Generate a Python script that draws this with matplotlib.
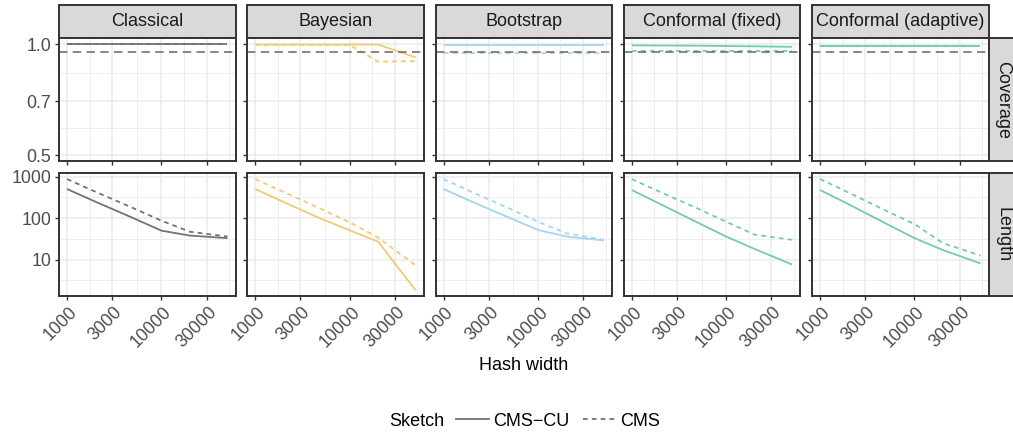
import numpy as np
import matplotlib.pyplot as plt
from matplotlib.lines import Line2D
from matplotlib.ticker import FixedLocator, NullFormatter
from matplotlib.transforms import ScaledTranslation

plt.rcParams['font.family'] = ['Liberation Sans', 'DejaVu Sans']

# data
widths = [1000, 2000, 5000, 10000, 20000, 50000]
methods = ['Classical', 'Bayesian', 'Bootstrap', 'Conformal (fixed)', 'Conformal (adaptive)']
colors = ['#737373', '#F1CA73', '#A2D6F3', '#73CAB2', '#73CAB2']
target = 0.95

cov_cu = [
    [0.998, 0.998, 0.998, 0.998, 0.998, 0.998],
    [0.997, 0.997, 0.997, 0.997, 0.997, 0.92],
    [0.997, 0.997, 0.997, 0.997, 0.997, 0.997],
    [0.992, 0.991, 0.990, 0.988, 0.986, 0.983],
    [0.989, 0.989, 0.989, 0.989, 0.989, 0.989],
]
cov_cms = [
    [0.998, 0.998, 0.998, 0.998, 0.998, 0.998],
    [0.995, 0.995, 0.995, 0.995, 0.896, 0.90],
    [0.948, 0.948, 0.948, 0.948, 0.948, 0.948],
    [0.957, 0.957, 0.957, 0.957, 0.957, 0.957],
    [0.989, 0.989, 0.989, 0.989, 0.989, 0.989],
]
len_cu = [
    [506, 250, 101, 50, 38, 33],
    [506, 245, 96, 51, 27, 1.8],
    [506, 250, 102, 52, 36, 29],
    [479, 220, 78, 36, 18, 7.6],
    [479, 218, 74, 33, 17, 8.1],
]
len_cms = [
    [880, 435, 176, 87, 47, 36],
    [880, 428, 166, 79, 34, 7.2],
    [880, 428, 171, 82, 43, 30],
    [880, 428, 171, 82, 40, 30],
    [880, 418, 151, 72, 25, 12.5],
]

x_breaks = [1000, 3000, 10000, 30000]
cov_breaks = [0.5, 0.7, 1.0]
len_breaks = [10, 100, 1000]

W, H = 1013, 436
fig = plt.figure(figsize=(W / 100, H / 100), dpi=100)


def box(x, y, w, h):
    return [x / W, 1 - (y + h) / H, w / W, h / H]


def expand(lo, hi):
    a, b = np.log10(lo), np.log10(hi)
    r = b - a
    return 10 ** (a - 0.05 * r), 10 ** (b + 0.05 * r)


def minor_of(breaks):
    lb = np.log10(breaks)
    mids = (lb[:-1] + lb[1:]) / 2
    ext = [lb[0] - (lb[1] - lb[0]) / 2, lb[-1] + (lb[-1] - lb[-2]) / 2]
    return 10 ** np.concatenate([mids, ext])


xlim = expand(min(widths), max(widths))
all_len = np.concatenate([np.ravel(len_cu), np.ravel(len_cms)])
ylims = [expand(0.5, 1.0), expand(all_len.min(), all_len.max())]
row_breaks = [cov_breaks, len_breaks]
row_labels = ['Coverage', 'Length']
tops = [38.5, 173.5]
pw, ph = 176.5, 122.5
dark = '#333333'
shift = ScaledTranslation(1.5 / 100, 0, fig.dpi_scale_trans)

for j in range(5):
    left = 59 + j * 188.25
    # strip on top
    st = fig.add_axes(box(left, 5, pw, 33.5))
    st.set_facecolor('#D9D9D9')
    st.set_xticks([]); st.set_yticks([])
    for s in st.spines.values():
        s.set_color(dark); s.set_linewidth(1.4)
    st.text(0.5, 0.5, methods[j], ha='center', va='center', fontsize=13,
            color='#1A1A1A', transform=st.transAxes)

    for i in range(2):
        ax = fig.add_axes(box(left, tops[i], pw, ph))
        ax.set_xscale('log'); ax.set_yscale('log')
        if i == 0:
            cu, cms = cov_cu[j], cov_cms[j]
        else:
            cu, cms = len_cu[j], len_cms[j]
        ax.plot(widths, cu, color=colors[j], lw=1.3, solid_capstyle='butt')
        ax.plot(widths, cms, color=colors[j], lw=1.3, ls=(0, (2.6, 2.3)))
        if i == 0:
            ax.axhline(target, color='#666666', lw=1.1, ls=(0, (5.5, 3.5)))

        ax.set_xlim(xlim); ax.set_ylim(ylims[i])
        ax.xaxis.set_major_locator(FixedLocator(x_breaks))
        ax.xaxis.set_minor_locator(FixedLocator(minor_of(x_breaks)))
        ax.yaxis.set_major_locator(FixedLocator(row_breaks[i]))
        ax.yaxis.set_minor_locator(FixedLocator(minor_of(row_breaks[i])))
        ax.xaxis.set_minor_formatter(NullFormatter())
        ax.yaxis.set_minor_formatter(NullFormatter())
        ax.grid(which='major', color='#EBEBEB', lw=1.1)
        ax.grid(which='minor', color='#EBEBEB', lw=0.6)
        ax.set_axisbelow(True)
        ax.tick_params(which='minor', length=0)
        ax.tick_params(which='major', length=3.2, width=1.0, color=dark,
                       labelcolor='#4D4D4D', labelsize=12.8, pad=2.5)
        for s in ax.spines.values():
            s.set_color(dark); s.set_linewidth(1.4)

        if j == 0:
            ax.set_yticklabels([f'{b:.1f}' if i == 0 else str(b) for b in row_breaks[i]])
        else:
            ax.set_yticklabels([])
        if i == 1:
            ax.set_xticklabels([str(b) for b in x_breaks], rotation=45,
                               ha='right', va='top', rotation_mode='anchor')
            for lab in ax.get_xticklabels():
                lab.set_transform(lab.get_transform() + shift)
        else:
            ax.set_xticklabels([])

        if j == 4:
            rs = fig.add_axes(box(left + pw, tops[i], 28, ph))
            rs.set_facecolor('#D9D9D9')
            rs.set_xticks([]); rs.set_yticks([])
            for s in rs.spines.values():
                s.set_color(dark); s.set_linewidth(1.4)
            rs.text(0.5, 0.5, row_labels[i], ha='center', va='center', fontsize=13,
                    rotation=270, color='#1A1A1A', transform=rs.transAxes)

fig.text(523.5 / W, 1 - 366 / H, 'Hash width', ha='center', va='center', fontsize=13)

# legend along the bottom
fig.text(444 / W, 1 - 421 / H, 'Sketch', ha='right', va='center', fontsize=13)
handles = [Line2D([], [], color='#737373', lw=1.3),
           Line2D([], [], color='#737373', lw=1.3, ls=(0, (2.6, 2.3)))]
fig.legend(handles, ['CMS\u2212CU', 'CMS'], loc='center left',
           bbox_to_anchor=(456 / W, 1 - 421 / H), ncol=2, frameon=False,
           fontsize=13, handlelength=1.85, handletextpad=0.2, columnspacing=0.75,
           borderpad=0, borderaxespad=0)

fig.savefig('out.png', dpi=100)
